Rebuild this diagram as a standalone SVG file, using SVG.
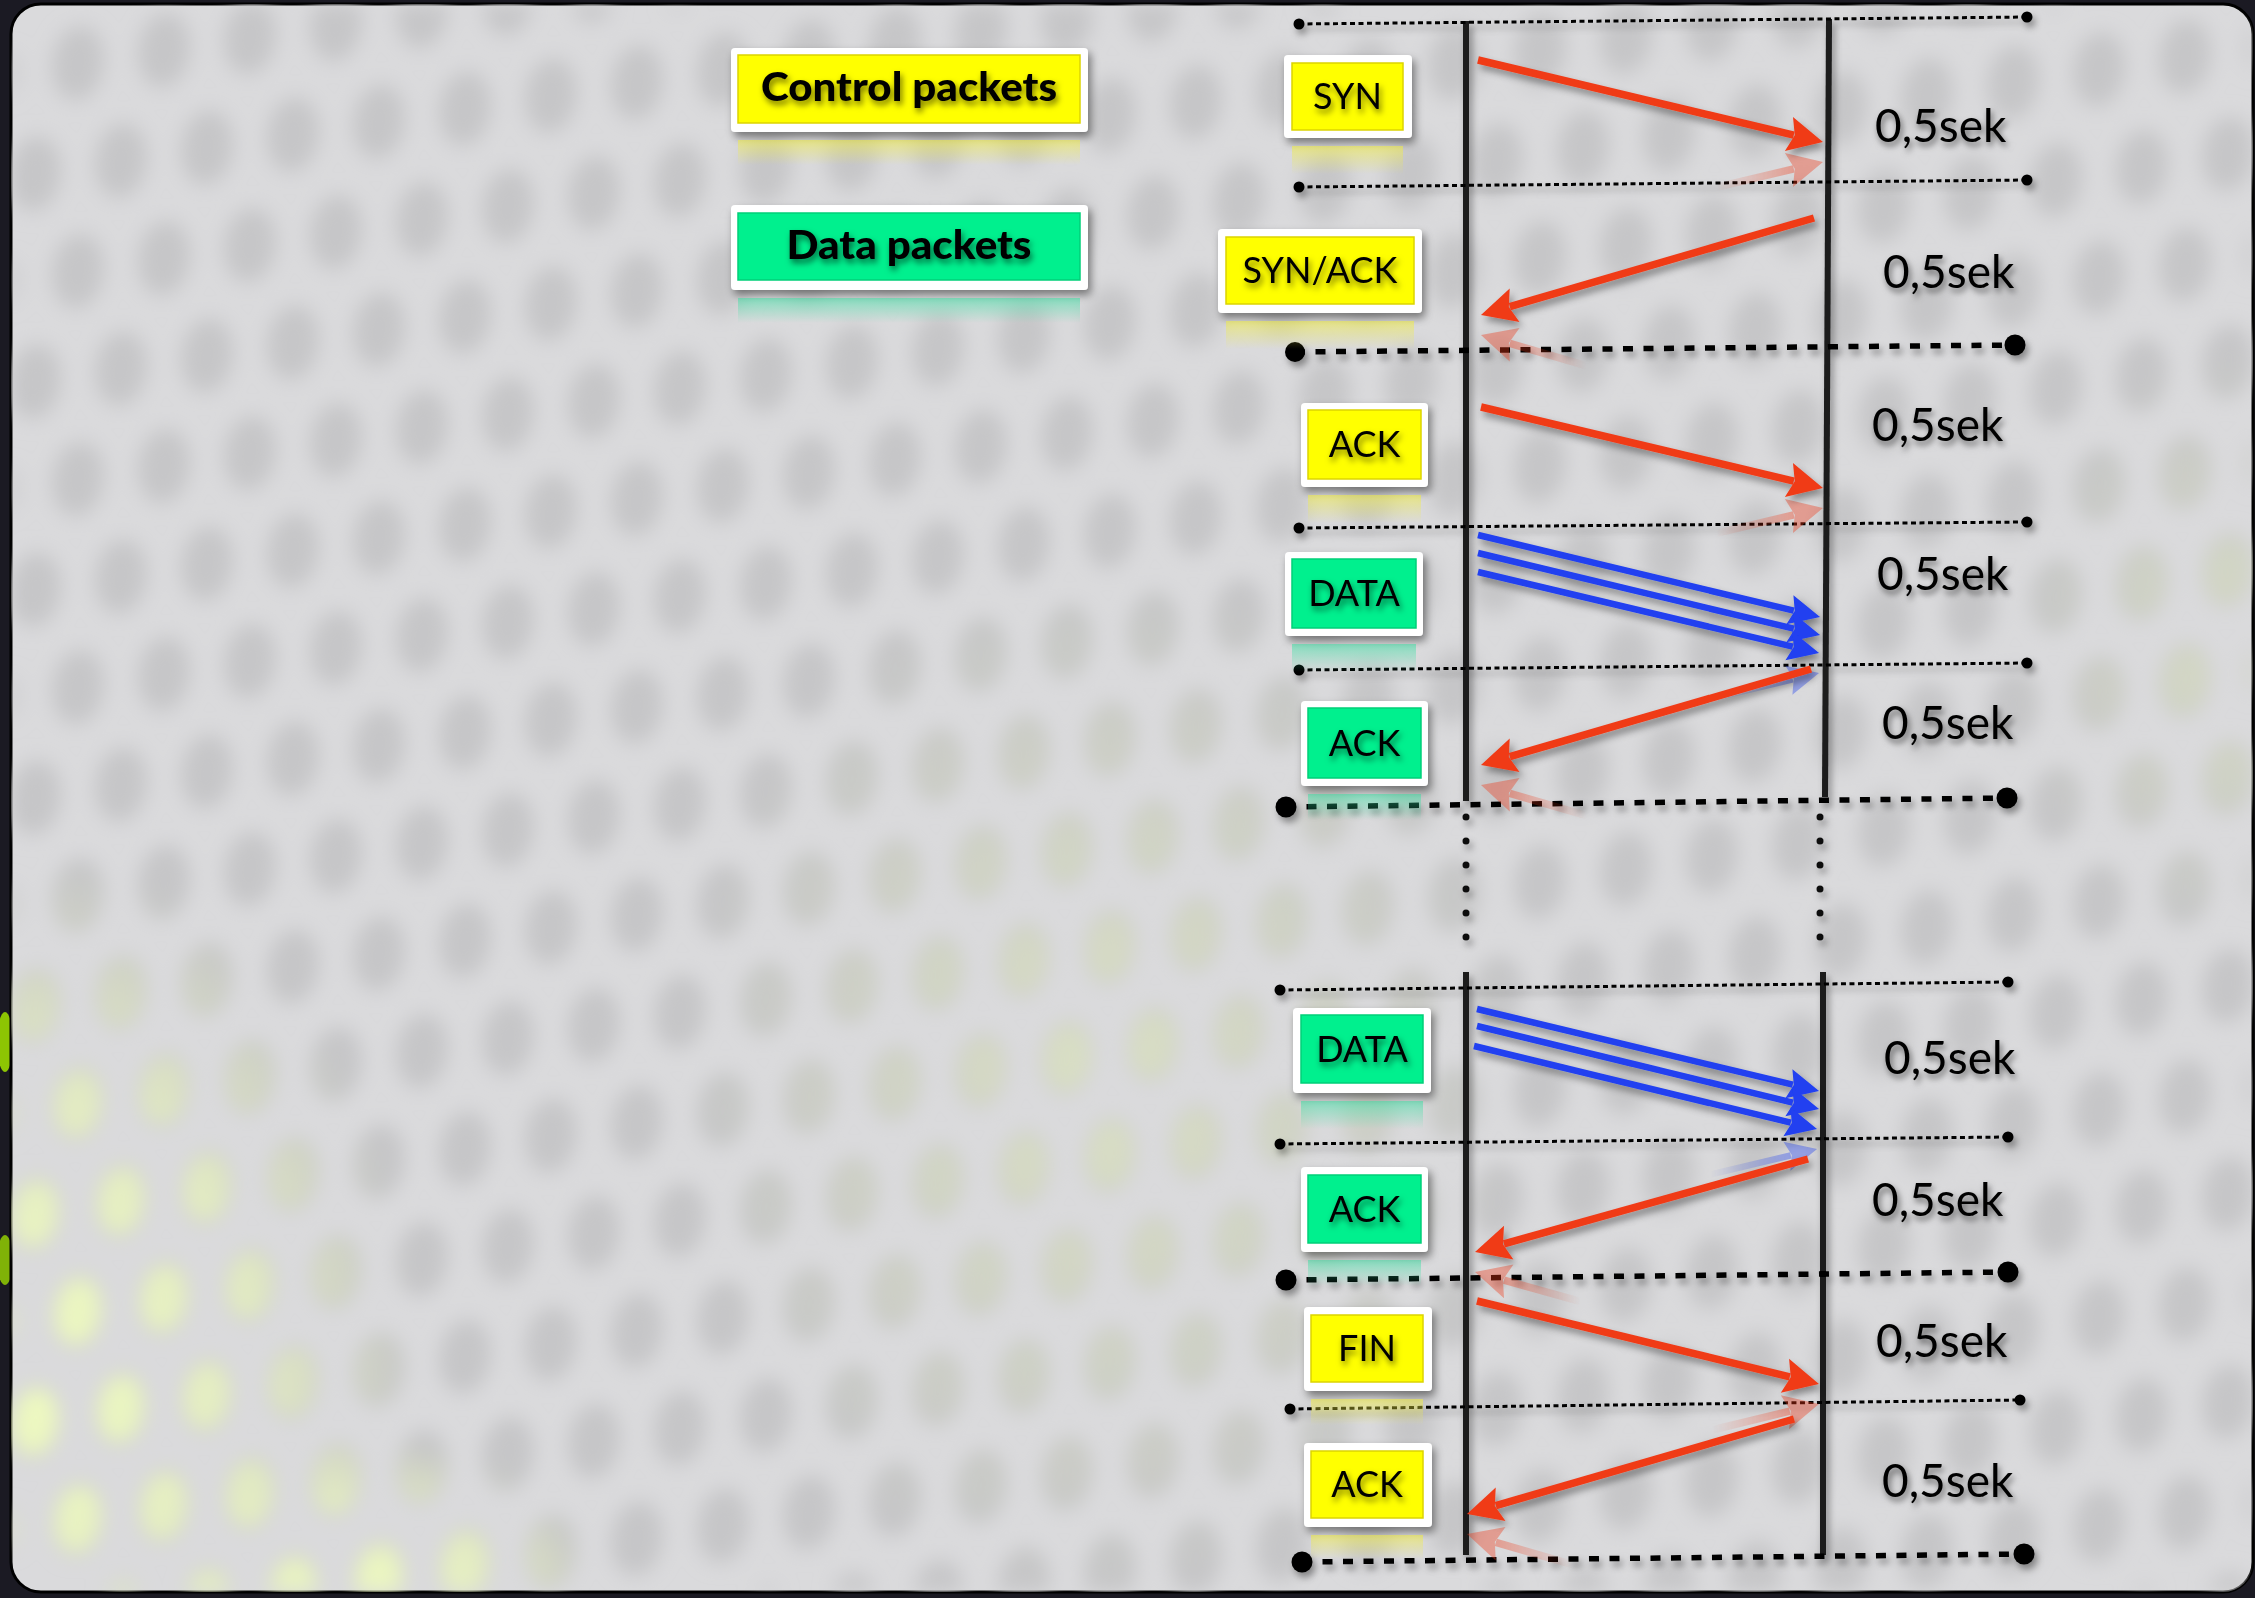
<svg xmlns="http://www.w3.org/2000/svg" width="2255" height="1598" viewBox="0 0 2255 1598">
<style>
.outer{fill:#ffffff;filter:url(#bs)}
.yel{fill:#ffff00;stroke:#dcd400;stroke-width:1.5}
.grn{fill:#00f08e;stroke:#00cf78;stroke-width:1.5}
.reflY{fill:url(#gReflY)}
.reflG{fill:url(#gReflG)}
.lbl{font-family:Lato,"Open Sans","Liberation Sans",sans-serif;font-size:36px;fill:#000;text-anchor:middle;filter:url(#ts)}
.hdr{font-family:Lato,"Liberation Sans",sans-serif;font-weight:900;font-size:40px;fill:#000;text-anchor:middle;filter:url(#ts)}
.sek{font-family:Lato,"Open Sans","Liberation Sans",sans-serif;font-size:46px;fill:#000;filter:url(#ts)}
.thin{stroke:#000;stroke-width:3;stroke-dasharray:5 3.5;fill:none}
.thick{stroke:#000;stroke-width:5.5;stroke-dasharray:10 10.5;fill:none}
.vl{stroke:#1a1a1a;stroke-width:6;fill:none}
.ar{stroke:#f03a18;stroke-width:7.5;fill:none;marker-end:url(#ahR)}
.ab{stroke:#2040f0;stroke-width:6.5;fill:none;marker-end:url(#ahB)}
.rr{stroke:url(#gRR);stroke-width:7.5;fill:none;marker-end:url(#ahR)}
.rl{stroke:url(#gRL);stroke-width:7.5;fill:none;marker-end:url(#ahR)}
.rb{stroke:url(#gBR);stroke-width:6.5;fill:none;marker-end:url(#ahB)}
</style>
<defs>
<marker id="ahR" markerUnits="userSpaceOnUse" orient="auto" markerWidth="60" markerHeight="60" viewBox="-15 -30 60 60" refX="0" refY="0" overflow="visible">
<path d="M30,0 L-5,-17.5 L1,0 L-5,17.5 Z" fill="#f03a18"/>
</marker>
<marker id="ahB" markerUnits="userSpaceOnUse" orient="auto" markerWidth="60" markerHeight="60" viewBox="-15 -30 60 60" refX="0" refY="0" overflow="visible">
<path d="M27,0 L-4,-15 L1,0 L-4,15 Z" fill="#2040f0"/>
</marker>
<linearGradient id="gReflY" x1="0" y1="0" x2="0" y2="1"><stop offset="0" stop-color="#f2ee40" stop-opacity="0.55"/><stop offset="1" stop-color="#f2ee40" stop-opacity="0"/></linearGradient>
<linearGradient id="gReflG" x1="0" y1="0" x2="0" y2="1"><stop offset="0" stop-color="#30e0a0" stop-opacity="0.5"/><stop offset="1" stop-color="#30e0a0" stop-opacity="0"/></linearGradient>
<linearGradient id="gRR" x1="0" y1="0" x2="1" y2="0"><stop offset="0" stop-color="#f03a18" stop-opacity="0"/><stop offset="1" stop-color="#f03a18" stop-opacity="1"/></linearGradient>
<linearGradient id="gRL" x1="0" y1="0" x2="1" y2="0"><stop offset="0" stop-color="#f03a18" stop-opacity="1"/><stop offset="1" stop-color="#f03a18" stop-opacity="0"/></linearGradient>
<linearGradient id="gBR" x1="0" y1="0" x2="1" y2="0"><stop offset="0" stop-color="#2040f0" stop-opacity="0"/><stop offset="1" stop-color="#2040f0" stop-opacity="1"/></linearGradient>
<radialGradient id="mA" cx="0.5" cy="0.5" r="0.5"><stop offset="0" stop-color="#fff" stop-opacity="1"/><stop offset="0.55" stop-color="#fff" stop-opacity="0.7"/><stop offset="1" stop-color="#fff" stop-opacity="0"/></radialGradient>
<radialGradient id="mB" cx="0.5" cy="0.5" r="0.5"><stop offset="0" stop-color="#fff" stop-opacity="0.5"/><stop offset="1" stop-color="#fff" stop-opacity="0"/></radialGradient>
<radialGradient id="mC" cx="0.5" cy="0.5" r="0.5"><stop offset="0" stop-color="#fff" stop-opacity="0.4"/><stop offset="1" stop-color="#fff" stop-opacity="0"/></radialGradient>
<mask id="ym" maskUnits="userSpaceOnUse" x="0" y="0" width="2255" height="1598">
<ellipse cx="40" cy="1380" rx="380" ry="520" fill="url(#mA)"/>
<ellipse cx="380" cy="1600" rx="220" ry="160" fill="url(#mA)"/>
<ellipse cx="1100" cy="1080" rx="420" ry="520" fill="url(#mB)"/>
<ellipse cx="2230" cy="650" rx="220" ry="300" fill="url(#mC)"/>
</mask>
<pattern id="holes" patternUnits="userSpaceOnUse" width="86" height="208" patternTransform="skewY(-8.6) translate(78,75)">
<g fill="#c6c6c8">
<ellipse cx="0" cy="0" rx="26" ry="37"/><ellipse cx="86" cy="0" rx="26" ry="37"/>
<ellipse cx="0" cy="208" rx="26" ry="37"/><ellipse cx="86" cy="208" rx="26" ry="37"/>
<ellipse cx="43" cy="104" rx="26" ry="37"/>
</g>
</pattern>
<pattern id="yholes" patternUnits="userSpaceOnUse" width="86" height="208" patternTransform="skewY(-8.6) translate(78,75)">
<g fill="#eefac0">
<ellipse cx="0" cy="0" rx="24" ry="34"/><ellipse cx="86" cy="0" rx="24" ry="34"/>
<ellipse cx="0" cy="208" rx="24" ry="34"/><ellipse cx="86" cy="208" rx="24" ry="34"/>
<ellipse cx="43" cy="104" rx="24" ry="34"/>
</g>
</pattern>
<clipPath id="panel"><rect x="11" y="4" width="2242" height="1588" rx="30"/></clipPath>
<filter id="bgBlur" filterUnits="userSpaceOnUse" x="0" y="0" width="2255" height="1598"><feGaussianBlur stdDeviation="10"/></filter>
<filter id="bs" x="-10%" y="-15%" width="125%" height="145%"><feDropShadow dx="3" dy="5" stdDeviation="4" flood-color="#000" flood-opacity="0.45"/></filter>
<filter id="ts" x="-10%" y="-30%" width="130%" height="180%"><feDropShadow dx="2" dy="4" stdDeviation="3" flood-color="#000" flood-opacity="0.55"/></filter>
<filter id="ls" filterUnits="userSpaceOnUse" x="0" y="0" width="2255" height="1598"><feDropShadow dx="3" dy="5" stdDeviation="3.5" flood-color="#000" flood-opacity="0.38"/></filter>
</defs>

<g id="background">
<rect x="0" y="0" width="2255" height="1598" fill="#1b1a23"/>
<ellipse cx="5" cy="1042" rx="8" ry="30" fill="#9ad800" opacity="0.9"/>
<ellipse cx="5" cy="1260" rx="8" ry="25" fill="#9ad800" opacity="0.8"/>
<rect x="11" y="4" width="2242" height="1588" rx="30" fill="#dadadc" stroke="#000" stroke-width="3"/>
<g clip-path="url(#panel)">
<g filter="url(#bgBlur)">
<rect x="11" y="4" width="2242" height="1588" fill="url(#holes)"/>
<rect x="11" y="4" width="2242" height="1588" fill="url(#yholes)" mask="url(#ym)"/>
</g>
</g>
</g>

<g id="timelines" filter="url(#ls)">
<line class="vl" x1="1466" y1="21" x2="1466" y2="801"/>
<line class="vl" x1="1829" y1="19" x2="1825" y2="797"/>
<line class="vl" x1="1466" y1="972" x2="1466" y2="1555"/>
<line class="vl" x1="1823" y1="972" x2="1823" y2="1555"/>
<g fill="#111">
<circle cx="1466" cy="817" r="3.5"/><circle cx="1466" cy="841" r="3.5"/><circle cx="1466" cy="865" r="3.5"/><circle cx="1466" cy="889" r="3.5"/><circle cx="1466" cy="913" r="3.5"/><circle cx="1466" cy="937" r="3.5"/>
<circle cx="1820" cy="817" r="3.5"/><circle cx="1820" cy="841" r="3.5"/><circle cx="1820" cy="865" r="3.5"/><circle cx="1820" cy="889" r="3.5"/><circle cx="1820" cy="913" r="3.5"/><circle cx="1820" cy="937" r="3.5"/>
</g>
<line class="thin" x1="1299" y1="24" x2="2027" y2="17"/>
<line class="thin" x1="1299" y1="187" x2="2027" y2="180"/>
<line class="thick" x1="1295" y1="352" x2="2015" y2="345"/>
<line class="thin" x1="1299" y1="528" x2="2027" y2="522"/>
<line class="thin" x1="1299" y1="670" x2="2027" y2="663"/>
<line class="thick" x1="1286" y1="807" x2="2007" y2="798"/>
<line class="thin" x1="1280" y1="990" x2="2008" y2="982"/>
<line class="thin" x1="1280" y1="1144" x2="2008" y2="1137"/>
<line class="thick" x1="1286" y1="1280" x2="2008" y2="1272"/>
<line class="thin" x1="1290" y1="1409" x2="2020" y2="1400"/>
<line class="thick" x1="1302" y1="1562" x2="2024" y2="1554"/>
<g fill="#000">
<circle cx="1299" cy="24" r="5.5"/><circle cx="2027" cy="17" r="5.5"/>
<circle cx="1299" cy="187" r="5.5"/><circle cx="2027" cy="180" r="5.5"/>
<circle cx="1295" cy="352" r="10"/><circle cx="2015" cy="345" r="10.5"/>
<circle cx="1299" cy="528" r="5.5"/><circle cx="2027" cy="522" r="5.5"/>
<circle cx="1299" cy="670" r="5.5"/><circle cx="2027" cy="663" r="5.5"/>
<circle cx="1286" cy="807" r="10.5"/><circle cx="2007" cy="798" r="10.5"/>
<circle cx="1280" cy="990" r="5.5"/><circle cx="2008" cy="982" r="5.5"/>
<circle cx="1280" cy="1144" r="5.5"/><circle cx="2008" cy="1137" r="5.5"/>
<circle cx="1286" cy="1280" r="10.5"/><circle cx="2008" cy="1272" r="10.5"/>
<circle cx="1290" cy="1409" r="5.5"/><circle cx="2020" cy="1400" r="5.5"/>
<circle cx="1302" cy="1562" r="10.5"/><circle cx="2024" cy="1554" r="10.5"/>
</g>
</g>

<g id="legend-control">
<rect class="outer" x="731" y="48" width="357" height="84" rx="4"/>
<rect class="yel" x="738" y="55" width="342" height="68"/>
<rect class="reflY" x="738" y="140" width="342" height="25"/>
<text class="hdr" x="909" y="101" textLength="296" lengthAdjust="spacingAndGlyphs">Control packets</text>
</g>
<g id="legend-data">
<rect class="outer" x="731" y="205" width="357" height="85" rx="4"/>
<rect class="grn" x="738" y="213" width="342" height="67"/>
<rect class="reflG" x="738" y="298" width="342" height="25"/>
<text class="hdr" x="909" y="259" textLength="245" lengthAdjust="spacingAndGlyphs">Data packets</text>
</g>

<g id="node-syn">
<rect class="outer" x="1284" y="55" width="128" height="83" rx="4"/>
<rect class="yel" x="1292" y="63" width="111" height="67"/>
<rect class="reflY" x="1292" y="146" width="111" height="28"/>
<text class="lbl" x="1347.5" y="109">SYN</text>
</g>
<g id="node-synack">
<rect class="outer" x="1218" y="229" width="204" height="84" rx="4"/>
<rect class="yel" x="1226" y="237" width="188" height="67"/>
<rect class="reflY" x="1226" y="321" width="188" height="28"/>
<text class="lbl" x="1320" y="283">SYN/ACK</text>
</g>
<g id="node-ack1">
<rect class="outer" x="1301" y="403" width="127" height="84" rx="4"/>
<rect class="yel" x="1308" y="410" width="113" height="69"/>
<rect class="reflY" x="1308" y="495" width="113" height="28"/>
<text class="lbl" x="1364.5" y="457">ACK</text>
</g>
<g id="node-data1">
<rect class="outer" x="1285" y="552" width="138" height="84" rx="4"/>
<rect class="grn" x="1292" y="559" width="124" height="69"/>
<rect class="reflG" x="1292" y="644" width="124" height="28"/>
<text class="lbl" x="1354" y="606">DATA</text>
</g>
<g id="node-ack2">
<rect class="outer" x="1301" y="701" width="127" height="85" rx="4"/>
<rect class="grn" x="1308" y="708" width="113" height="70"/>
<rect class="reflG" x="1308" y="794" width="113" height="26"/>
<text class="lbl" x="1364.5" y="755.5">ACK</text>
</g>
<g id="node-data2">
<rect class="outer" x="1293" y="1008" width="138" height="85" rx="4"/>
<rect class="grn" x="1301" y="1015" width="122" height="68"/>
<rect class="reflG" x="1301" y="1101" width="122" height="28"/>
<text class="lbl" x="1362" y="1061.5">DATA</text>
</g>
<g id="node-ack3">
<rect class="outer" x="1301" y="1167" width="127" height="85" rx="4"/>
<rect class="grn" x="1308" y="1175" width="113" height="68"/>
<rect class="reflG" x="1308" y="1260" width="113" height="26"/>
<text class="lbl" x="1364.5" y="1221.5">ACK</text>
</g>
<g id="node-fin">
<rect class="outer" x="1304" y="1307" width="128" height="84" rx="4"/>
<rect class="yel" x="1311" y="1315" width="112" height="67"/>
<rect class="reflY" x="1311" y="1399" width="112" height="26"/>
<text class="lbl" x="1367" y="1361">FIN</text>
</g>
<g id="node-ack4">
<rect class="outer" x="1304" y="1443" width="128" height="84" rx="4"/>
<rect class="yel" x="1311" y="1451" width="112" height="67"/>
<rect class="reflY" x="1311" y="1535" width="112" height="24"/>
<text class="lbl" x="1367" y="1497">ACK</text>
</g>

<g id="durations">
<text class="sek" x="1875" y="142">0,5sek</text>
<text class="sek" x="1883" y="288">0,5sek</text>
<text class="sek" x="1872" y="441">0,5sek</text>
<text class="sek" x="1877" y="590">0,5sek</text>
<text class="sek" x="1882" y="739">0,5sek</text>
<text class="sek" x="1884" y="1074">0,5sek</text>
<text class="sek" x="1872" y="1216">0,5sek</text>
<text class="sek" x="1876" y="1357">0,5sek</text>
<text class="sek" x="1882" y="1497">0,5sek</text>
</g>

<g id="connectors">
<g id="reflections" opacity="0.38">
<g transform="matrix(1 0 0 -1 0 304)"><path class="rr" d="M1716,116.6 L1793.8,135.1"/></g>
<g transform="matrix(1 0 0 -1 0 650)"><path class="rl" d="M1586.6,284.2 L1509.8,306.6"/></g>
<g transform="matrix(1 0 0 -1 0 996)"><path class="rr" d="M1716,462.7 L1793.8,481.1"/></g>
<g transform="matrix(1 0 0 -1 0 1326)"><path class="rb" d="M1712,627.4 L1792.8,646.7"/></g>
<g transform="matrix(1 0 0 -1 0 1550)"><path class="rl" d="M1586.6,734.3 L1509.8,756.6"/></g>
<g transform="matrix(1 0 0 -1 0 2278)"><path class="rb" d="M1710,1103.4 L1790.8,1122.7"/></g>
<g transform="matrix(1 0 0 -1 0 2524)"><path class="rl" d="M1580.9,1222.4 L1503.9,1243.9"/></g>
<g transform="matrix(1 0 0 -1 0 2788)"><path class="rr" d="M1712.1,1358 L1789.8,1376.9"/></g>
<g transform="matrix(1 0 0 -1 0 3048)"><path class="rl" d="M1572.6,1483.3 L1495.8,1505.6"/></g>
</g>
<g id="arrows" filter="url(#ls)">
<path id="e-syn" class="ar" d="M1478,60 L1793.8,135.1"/>
<path id="e-synack" class="ar" d="M1814,218 L1509.8,306.6"/>
<path id="e-ack1" class="ar" d="M1481,407 L1793.8,481.1"/>
<path id="e-data1a" class="ab" d="M1478,535 L1793.8,610.7"/>
<path id="e-data1b" class="ab" d="M1478,553 L1793.8,628.7"/>
<path id="e-data1c" class="ab" d="M1478,572 L1792.8,646.7"/>
<path id="e-ack2" class="ar" d="M1811,669 L1509.8,756.6"/>
<path id="e-data2a" class="ab" d="M1477,1009 L1792.8,1084.7"/>
<path id="e-data2b" class="ab" d="M1477,1026 L1792.8,1102.7"/>
<path id="e-data2c" class="ab" d="M1474,1046 L1790.8,1122.7"/>
<path id="e-ack3" class="ar" d="M1808,1159 L1503.9,1243.9"/>
<path id="e-fin" class="ar" d="M1477,1301 L1789.8,1376.9"/>
<path id="e-ack4" class="ar" d="M1794,1419 L1495.8,1505.6"/>
</g>
</g>
</svg>
